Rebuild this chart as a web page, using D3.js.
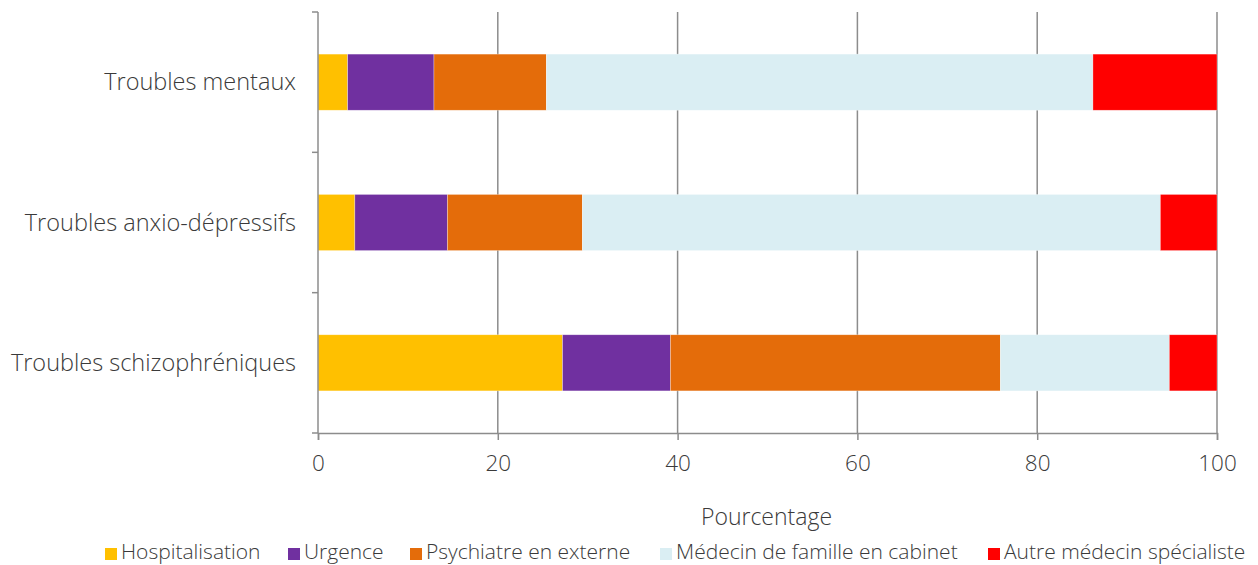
<!DOCTYPE html>
<html>
<head>
<meta charset="utf-8">
<script src="https://cdn.jsdelivr.net/npm/d3@7"></script>
<style>
  html, body { margin: 0; padding: 0; background: #fff; }
  svg { display: block; font-family: "Open Sans", Lato, sans-serif; font-weight: 300; }
</style>
</head>
<body>
<svg id="chart" width="1258" height="565"></svg>
<script>
// Categories (top to bottom) and series shares in percent
const categories = ["Troubles mentaux", "Troubles anxio-dépressifs", "Troubles schizophréniques"];
const seriesNames = ["Hospitalisation", "Urgence", "Psychiatre en externe", "Médecin de famille en cabinet", "Autre médecin spécialiste"];
const hospitalisation = [3.3, 4.1, 27.2];
const urgence = [9.6, 10.3, 12.0];
const psychiatre = [12.5, 15.0, 36.7];
const medecinFamille = [60.8, 64.3, 18.8];
const autreSpecialiste = [13.8, 6.3, 5.3];
const xTicks = [0, 20, 40, 60, 80, 100];
const colors = ["#FFC000", "#7030A0", "#E46C0A", "#DAEEF3", "#FF0000"];

const seriesValues = [hospitalisation, urgence, psychiatre, medecinFamille, autreSpecialiste];
const rows = categories.map((c, i) => {
  const r = { category: c };
  seriesNames.forEach((s, k) => { r[s] = seriesValues[k][i]; });
  return r;
});

const svg = d3.select("#chart");
const margin = { left: 318, right: 41, top: 12, bottom: 132 };
const W = 1258, H = 565;
const textColor = "#3a3a3a";

const x = d3.scaleLinear().domain([0, 100]).range([margin.left, W - margin.right]);
const y = d3.scaleBand().domain(categories).range([margin.top, H - margin.bottom]).paddingInner(0.6).paddingOuter(0.3);

const axisColor = "#8c8c8c";

// vertical gridlines
svg.append("g")
  .selectAll("line")
  .data(xTicks.slice(1))
  .join("line")
  .attr("x1", d => x(d)).attr("x2", d => x(d))
  .attr("y1", margin.top).attr("y2", H - margin.bottom)
  .attr("stroke", axisColor).attr("stroke-width", 1.5);

// stacked bars
const stack = d3.stack().keys(seriesNames);
const layers = stack(rows);
svg.append("g")
  .selectAll("g")
  .data(layers)
  .join("g")
  .attr("fill", (d, i) => colors[i])
  .selectAll("rect")
  .data(d => d)
  .join("rect")
  .attr("x", d => x(d[0]))
  .attr("width", d => x(d[1]) - x(d[0]))
  .attr("y", d => y(d.data.category))
  .attr("height", y.bandwidth())
  .attr("stroke", "rgba(255,255,255,0.5)")
  .attr("stroke-width", 0.6);

// x axis
const xAxis = svg.append("g")
  .attr("transform", `translate(0,${H - margin.bottom})`)
  .call(d3.axisBottom(x).tickValues(xTicks).tickSize(7).tickPadding(15));
xAxis.select(".domain").attr("stroke", axisColor).attr("stroke-width", 1.5);
xAxis.selectAll(".tick line").attr("stroke", axisColor).attr("stroke-width", 1.5);
xAxis.selectAll("text").attr("fill", textColor).attr("font-size", 22.5)
  .attr("font-family", "\"Open Sans\", sans-serif").attr("font-weight", 300);

// y axis with ticks at category boundaries
const yAxis = svg.append("g").attr("transform", `translate(${margin.left},0)`);
yAxis.append("line")
  .attr("x1", 0).attr("x2", 0)
  .attr("y1", margin.top).attr("y2", H - margin.bottom)
  .attr("stroke", axisColor).attr("stroke-width", 1.5);
const step = (H - margin.bottom - margin.top) / categories.length;
yAxis.selectAll("line.tk")
  .data(d3.range(categories.length + 1))
  .join("line")
  .attr("class", "tk")
  .attr("x1", -6).attr("x2", 0)
  .attr("y1", i => margin.top + i * step).attr("y2", i => margin.top + i * step)
  .attr("stroke", axisColor).attr("stroke-width", 1.5);
yAxis.selectAll("text")
  .data(categories)
  .join("text")
  .attr("x", -22)
  .attr("y", d => y(d) + y.bandwidth() / 2)
  .attr("dy", "0.35em")
  .attr("text-anchor", "end")
  .attr("fill", textColor)
  .attr("font-size", 23.5)
  .text(d => d);

// axis title
svg.append("text")
  .attr("x", x(50) - 1).attr("y", 525)
  .attr("text-anchor", "middle")
  .attr("fill", textColor)
  .attr("font-size", 23)
  .text("Pourcentage");

// legend
const legendItems = [
  { name: seriesNames[0], x: 105 },
  { name: seriesNames[1], x: 288 },
  { name: seriesNames[2], x: 410 },
  { name: seriesNames[3], x: 660 },
  { name: seriesNames[4], x: 988 }
];
const lg = svg.append("g").selectAll("g").data(legendItems).join("g")
  .attr("transform", d => `translate(${d.x},559)`);
lg.append("rect")
  .attr("x", 0).attr("y", -11).attr("width", 12).attr("height", 12)
  .attr("fill", (d, i) => colors[i]);
lg.append("text")
  .attr("x", 16)
  .attr("fill", textColor)
  .attr("font-size", 21)
  .text(d => d.name);
</script>
</body>
</html>
